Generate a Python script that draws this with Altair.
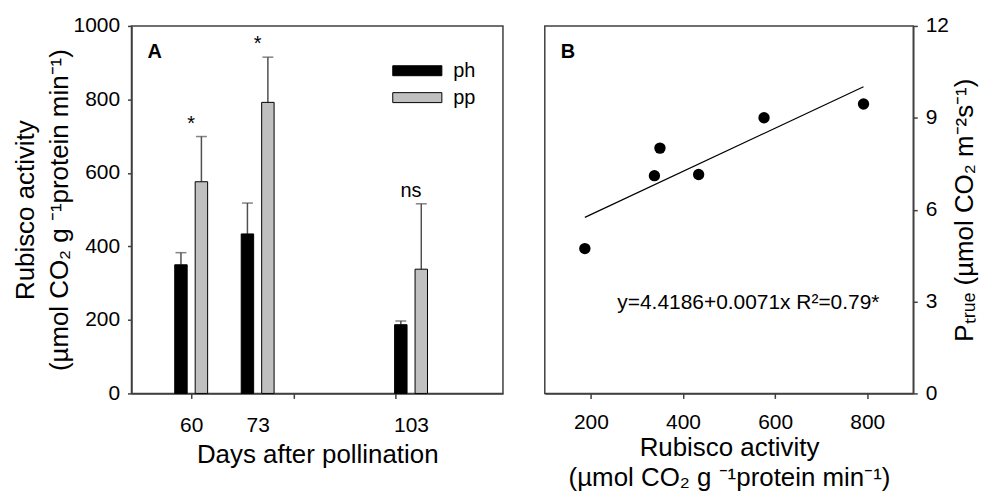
import altair as alt
import pandas as pd

# ---------------- data ----------------
days = [60, 73, 103]
ph_mean = [350, 434, 187]
ph_err = [33, 84, 10]
pp_mean = [576, 792, 338]
pp_err = [123, 123, 178]
sig_labels = ["*", "*", "ns"]

rubisco = [187, 338, 350, 434, 576, 792]
ptrue = [4.73, 7.11, 8.01, 7.15, 9.0, 9.45]

eq_text = "y=4.4186+0.0071x R\u00b2=0.79*"

FONT = "Liberation Sans"
AXC = "#404040"
ERRC = "#505050"

bars_df = pd.DataFrame({
    "day": days + days,
    "series": ["ph"] * 3 + ["pp"] * 3,
    "mean": ph_mean + pp_mean,
    "err": ph_err + pp_err,
})
sig_df = pd.DataFrame({
    "day": days,
    "label": sig_labels,
    "top": [m + e for m, e in zip(pp_mean, pp_err)],
})
pts_df = pd.DataFrame({"rubisco": rubisco, "ptrue": ptrue})

# ---------------- panel A ----------------
xA = alt.Scale(domain=[49.3, 120], nice=False, zero=False)
yA = alt.Scale(domain=[0, 1000], nice=False)

xA_axis = alt.Axis(
    values=[60, 73, 80, 100, 103],
    labelExpr="(datum.value == 80 || datum.value == 100) ? '' : datum.label",
    tickOpacity={"condition": {"test": "datum.value == 73 || datum.value == 103", "value": 0}, "value": 1},
    tickSize=5, labelPadding=16, titlePadding=6, labelFlush=False,
)
yA_axis = alt.Axis(
    values=[0, 200, 400, 600, 800, 1000], format="d", tickSize=4, labelPadding=8,
    titlePadding=1, titleLineHeight=34,
)

base_a = alt.Chart(bars_df).transform_calculate(
    xpos="datum.day + (datum.series == 'ph' ? -2 : 2)",
    top="datum.mean + datum.err",
)

err_rule = base_a.mark_rule(color=ERRC, strokeWidth=1.5).encode(
    x=alt.X("xpos:Q", scale=xA, axis=xA_axis, title="Days after pollination"),
    y=alt.Y("mean:Q", scale=yA, axis=yA_axis,
            title=["Rubisco activity", "(\u00b5mol CO\u2082 g \u207b\u00b9protein min\u207b\u00b9)"]),
    y2="top:Q",
)
err_cap = base_a.mark_tick(orient="horizontal", size=11, thickness=1.5, color=ERRC).encode(
    x="xpos:Q", y="top:Q",
)
bars = base_a.mark_bar(orient="vertical", size=12.5, stroke="black", strokeWidth=1).encode(
    x="xpos:Q",
    y="mean:Q",
    fill=alt.Fill(
        "series:N",
        scale=alt.Scale(domain=["ph", "pp"], range=["#000000", "#c0c0c0"]),
        legend=alt.Legend(
            title=None, orient="none", legendX=277, legendY=35,
            symbolType="M-4.93,-1L4.93,-1L4.93,1L-4.93,1Z", symbolSize=100,
            symbolStrokeColor="black", symbolStrokeWidth=1,
            labelFontSize=20, labelFont=FONT, labelOffset=26, rowPadding=7,
        ),
    ),
)
sig = alt.Chart(sig_df).mark_text(baseline="bottom", dy=-3, fontSize=20, font=FONT, color="black").encode(
    x="day:Q", y="top:Q", text="label:N",
)
lab_a = alt.Chart(pd.DataFrame({"t": ["A"]})).mark_text(
    align="left", baseline="alphabetic", fontSize=20, fontWeight="bold", font=FONT, color="black"
).encode(x=alt.value(16), y=alt.value(32), text="t:N")

panel_a = alt.layer(err_rule, err_cap, bars, sig, lab_a).properties(width=373, height=369)

# ---------------- panel B ----------------
xB = alt.Scale(domain=[100, 900], nice=False, zero=False)
yB = alt.Scale(domain=[0, 12], nice=False)

pts = alt.Chart(pts_df).mark_circle(size=130, color="black", opacity=1).encode(
    x=alt.X("rubisco:Q", scale=xB,
            axis=alt.Axis(values=[200, 400, 600, 800], tickSize=5, labelPadding=13,
                          titlePadding=2, titleLineHeight=30),
            title=["Rubisco activity", "(\u00b5mol CO\u2082 g \u207b\u00b9protein min\u207b\u00b9)"]),
    y=alt.Y("ptrue:Q", scale=yB,
            axis=alt.Axis(orient="right", values=[0, 3, 6, 9, 12], tickSize=4, labelPadding=8,
                          titleAngle=270, titleBaseline="top", titlePadding=3),
            title="P\u209c\u1d63\u1d64\u2091 (\u00b5mol CO\u2082 m\u207b\u00b2s\u207b\u00b9)"),
)
fit = alt.Chart(pts_df).transform_regression("rubisco", "ptrue").mark_line(
    color="black", strokeWidth=1.2
).encode(x="rubisco:Q", y="ptrue:Q")
eq = alt.Chart(pd.DataFrame({"t": [eq_text]})).mark_text(
    align="center", baseline="alphabetic", fontSize=21, font=FONT, color="black"
).encode(x=alt.datum(542), y=alt.datum(2.76), text="t:N")
lab_b = alt.Chart(pd.DataFrame({"t": ["B"]})).mark_text(
    align="left", baseline="alphabetic", fontSize=20, fontWeight="bold", font=FONT, color="black"
).encode(x=alt.value(16), y=alt.value(32), text="t:N")

panel_b = alt.layer(fit, pts, eq, lab_b).properties(width=370, height=369)

chart = alt.hconcat(panel_a, panel_b, spacing=40).properties(
    padding={"left": 3, "top": 5, "right": 0, "bottom": 0}
).configure_axis(
    grid=False, domainColor=AXC, tickColor=AXC, domainWidth=1.5, tickWidth=1.5,
    labelFont=FONT, titleFont=FONT, labelFontSize=21, titleFontSize=26,
    titleFontWeight="normal", labelColor="black", titleColor="black",
).configure_view(stroke=AXC, strokeWidth=1.5)

chart.save("out.html", embed_options={"renderer": "svg", "actions": False})
